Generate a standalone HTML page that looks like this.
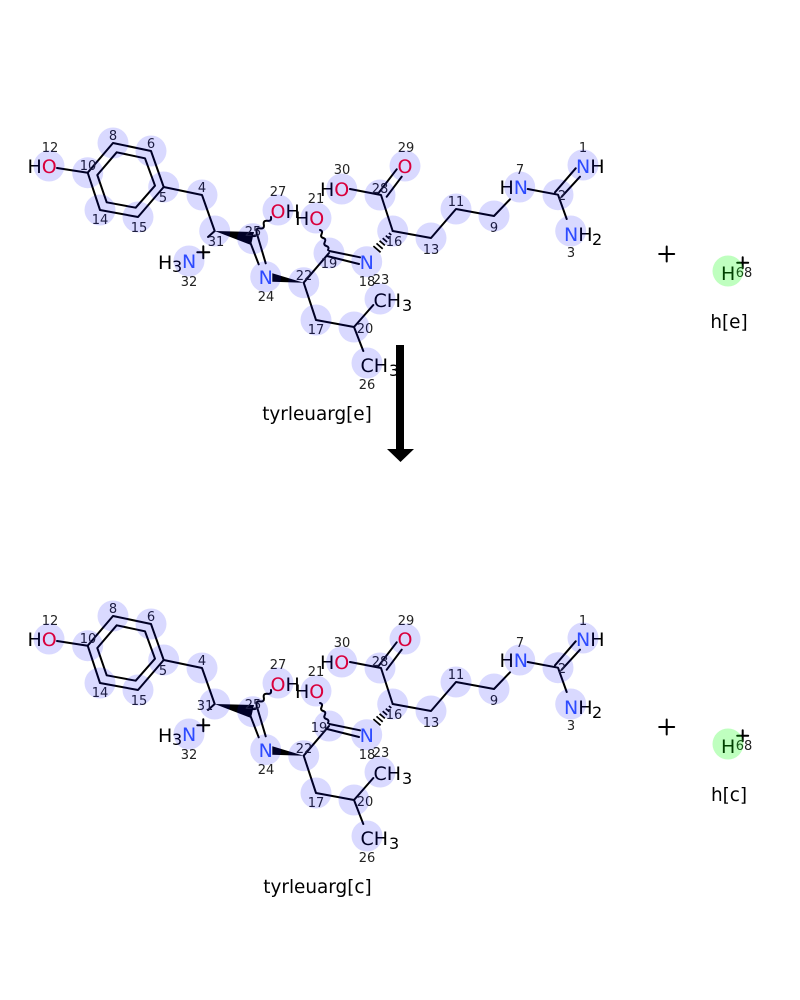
<!DOCTYPE html>
<html><head><meta charset="utf-8"><style>
html,body{margin:0;padding:0;background:#fff}
svg{display:block}
text{font-family:"DejaVu Sans","Liberation Sans",sans-serif}
.a{font-size:19px}.s{font-size:16px}
.n{font-size:13px;text-anchor:middle;fill:#222}
.t{font-size:18.4px;text-anchor:middle}
.O{fill:#ff001a}.N{fill:#3558ff}
.b{stroke:#000;stroke-width:2;fill:none;stroke-linecap:round;stroke-linejoin:round}
.h{stroke:#000;stroke-width:1.7}
.c circle{fill:rgba(0,0,255,.15)}
</style></head><body>
<svg width="800" height="1000" viewBox="0 0 800 1000" xmlns="http://www.w3.org/2000/svg">
<rect width="800" height="1000" fill="#fff"/>
<defs>
<g id="sk">
<path class="b" d="M57 168L87.7 172.7"/>
<path class="b" d="M87.7 172.7L113 143L151 151L163.7 187L138 217L100 210Z"/>
<path class="b" d="M97.3 175L116.7 152.3L145 158.3L155 185.7L135.7 207.7L106.7 202.3Z"/>
<path class="b" d="M163.7 187L202 195L214.7 231L208 237"/>
<polygon points="214.7,231 254,232 251,245" fill="#000"/>
<path class="b" d="M250 241.7L258.7 264.3M257.3 235L265.7 263.3"/>
<path class="b" d="M253 236Q257.4 236.7 256.6 232.2Q255.8 227.7 260.2 228.4Q264.6 229.1 263.8 224.6Q263 220.1 267.4 220.8Q271.8 221.5 271 217"/>
<polygon points="303.7,282.7 272.3,273.3 272.3,281.7" fill="#000"/>
<path class="b" d="M329 253L303.7 282.7L316 320L354 327L373.3 305M354 327L363.3 351"/>
<path class="b" d="M329.3 251L360 257.3M327 256L359 264"/>
<path class="b" d="M328 250Q329.6 247 326.4 246Q323.2 245 324.8 242Q326.4 239 323.2 238Q320 237 321.6 234Q323.2 231 320 230"/>
<path class="h" d="M388.9 233L391.3 235M385.8 235.6L389.2 238.6M382.7 238.2L387.1 242M379.55 240.8L384.85 245.4M376.5 243.4L382.7 248.8M373.4 246.1L380.6 252.3"/>
<path class="b" d="M392.7 231L381 195L350 189M378.3 193.3L396.7 169.3M386.7 196.7L401.7 176.7"/>
<path class="b" d="M392.7 231L431 238L456 209L494 216L510 199.3M527.7 189L558 194.7L566.7 219M555 192.3L575.7 168.3M561.7 196.7L580 176.7"/>
<path class="b" d="M197.3 252.3H209.3M203.3 246.3V258.3"/>
<path class="b" d="M659.2 254H674.2M666.7 246.5V261.5"/>
<path class="b" d="M737.2 262.7H748.2M742.7 257.2V268.2"/>
</g>
</defs>

<use href="#sk"/>
<use href="#sk" y="473"/>

<!-- top labels -->
<g>
<text class="a" x="27.5" y="173">H<tspan class="O">O</tspan></text>
<text class="a" x="158" y="269">H</text><text class="s" x="172" y="272">3</text><text class="a N" x="182" y="268">N</text>
<text class="a N" x="258.6" y="284">N</text>
<text class="a" x="270.5" y="218"><tspan class="O">O</tspan>H</text>
<text class="a" x="295" y="225">H<tspan class="O">O</tspan></text>
<text class="a" x="320" y="196">H<tspan class="O">O</tspan></text>
<text class="a O" x="397.5" y="173">O</text>
<text class="a N" x="359.6" y="269">N</text>
<text class="a" x="373.5" y="307">CH</text><text class="s" x="402" y="311">3</text>
<text class="a" x="360.5" y="372">CH</text><text class="s" x="389" y="376">3</text>
<text class="a" x="499.5" y="194">H<tspan class="N">N</tspan></text>
<text class="a" x="576" y="173"><tspan class="N">N</tspan>H</text>
<text class="a" x="564" y="241"><tspan class="N">N</tspan>H</text><text class="s" x="592" y="245">2</text>
<text class="a" x="721" y="280">H</text>
<text class="n" x="50" y="152">12</text><text class="n" x="113" y="140">8</text><text class="n" x="151" y="148">6</text><text class="n" x="88" y="170">10</text><text class="n" x="163" y="202">5</text><text class="n" x="100" y="224">14</text><text class="n" x="139" y="232">15</text><text class="n" x="202" y="192">4</text><text class="n" x="216" y="246">31</text><text class="n" x="189" y="286">32</text><text class="n" x="253" y="236">25</text><text class="n" x="266" y="301">24</text><text class="n" x="278" y="196">27</text><text class="n" x="316" y="203">21</text><text class="n" x="342" y="174">30</text><text class="n" x="380" y="193">28</text><text class="n" x="406" y="152">29</text><text class="n" x="394" y="246">16</text><text class="n" x="329" y="268">19</text><text class="n" x="367" y="286">18</text><text class="n" x="304" y="280">22</text><text class="n" x="381" y="284">23</text><text class="n" x="316" y="334">17</text><text class="n" x="365" y="333">20</text><text class="n" x="367" y="389">26</text><text class="n" x="431" y="254">13</text><text class="n" x="456" y="206">11</text><text class="n" x="494" y="232">9</text><text class="n" x="520" y="174">7</text><text class="n" x="562" y="200">2</text><text class="n" x="583" y="152">1</text><text class="n" x="571" y="257">3</text><text class="n" x="744" y="277">68</text>
<text class="t" x="317" y="420">tyrleuarg[e]</text>
<text class="t" x="729" y="328">h[e]</text>
</g>

<!-- bottom labels -->
<g>
<text class="a" x="27.5" y="646">H<tspan class="O">O</tspan></text>
<text class="a" x="158" y="742">H</text><text class="s" x="172" y="745">3</text><text class="a N" x="182" y="741">N</text>
<text class="a N" x="258.6" y="757">N</text>
<text class="a" x="270.5" y="691"><tspan class="O">O</tspan>H</text>
<text class="a" x="295" y="698">H<tspan class="O">O</tspan></text>
<text class="a" x="320" y="669">H<tspan class="O">O</tspan></text>
<text class="a O" x="397.5" y="646">O</text>
<text class="a N" x="359.6" y="742">N</text>
<text class="a" x="373.5" y="780">CH</text><text class="s" x="402" y="784">3</text>
<text class="a" x="360.5" y="845">CH</text><text class="s" x="389" y="849">3</text>
<text class="a" x="499.5" y="667">H<tspan class="N">N</tspan></text>
<text class="a" x="576" y="646"><tspan class="N">N</tspan>H</text>
<text class="a" x="564" y="714"><tspan class="N">N</tspan>H</text><text class="s" x="592" y="718">2</text>
<text class="a" x="721" y="753">H</text>
<text class="n" x="50" y="625">12</text><text class="n" x="113" y="613">8</text><text class="n" x="151" y="621">6</text><text class="n" x="88" y="643">10</text><text class="n" x="163" y="675">5</text><text class="n" x="100" y="697">14</text><text class="n" x="139" y="705">15</text><text class="n" x="202" y="665">4</text><text class="n" x="205" y="710">31</text><text class="n" x="189" y="759">32</text><text class="n" x="253" y="709">25</text><text class="n" x="266" y="774">24</text><text class="n" x="278" y="669">27</text><text class="n" x="316" y="676">21</text><text class="n" x="342" y="647">30</text><text class="n" x="380" y="666">28</text><text class="n" x="406" y="625">29</text><text class="n" x="394" y="719">16</text><text class="n" x="319" y="732">19</text><text class="n" x="367" y="759">18</text><text class="n" x="304" y="753">22</text><text class="n" x="381" y="757">23</text><text class="n" x="316" y="807">17</text><text class="n" x="365" y="806">20</text><text class="n" x="367" y="862">26</text><text class="n" x="431" y="727">13</text><text class="n" x="456" y="679">11</text><text class="n" x="494" y="705">9</text><text class="n" x="520" y="647">7</text><text class="n" x="562" y="673">2</text><text class="n" x="583" y="625">1</text><text class="n" x="571" y="730">3</text><text class="n" x="744" y="750">68</text>
<text class="t" x="317.5" y="893">tyrleuarg[c]</text>
<text class="t" x="729" y="801">h[c]</text>
</g>

<!-- arrow -->
<rect x="396" y="345" width="8" height="105" fill="#000"/>
<polygon points="387,449 414,449 400.5,462" fill="#000"/>

<!-- highlights -->
<defs>
<g id="hl" class="c">
<circle cx="49" cy="166" r="15.5"/><circle cx="87.7" cy="172.7" r="15.5"/><circle cx="113" cy="143" r="15.5"/><circle cx="151" cy="151" r="15.5"/><circle cx="163.7" cy="187" r="15.5"/><circle cx="138" cy="217" r="15.5"/><circle cx="100" cy="210" r="15.5"/><circle cx="202" cy="195" r="15.5"/><circle cx="214.7" cy="231" r="15.5"/><circle cx="189" cy="261" r="15.5"/><circle cx="252.7" cy="238.7" r="15.5"/><circle cx="265.7" cy="276.7" r="15.5"/><circle cx="278" cy="210" r="15.5"/><circle cx="316" cy="218" r="15.5"/><circle cx="341.7" cy="189" r="15.5"/><circle cx="380" cy="195" r="15.5"/><circle cx="405" cy="166" r="15.5"/><circle cx="392.7" cy="231" r="15.5"/><circle cx="329" cy="253" r="15.5"/><circle cx="366.7" cy="261.7" r="15.5"/><circle cx="303.7" cy="282.7" r="15.5"/><circle cx="316" cy="320" r="15.5"/><circle cx="354" cy="327" r="15.5"/><circle cx="380" cy="299" r="15.5"/><circle cx="367" cy="363" r="15.5"/><circle cx="431" cy="238" r="15.5"/><circle cx="456" cy="209" r="15.5"/><circle cx="494" cy="216" r="15.5"/><circle cx="519.7" cy="187" r="15.5"/><circle cx="558" cy="194.7" r="15.5"/><circle cx="583" cy="165" r="15.5"/><circle cx="570.7" cy="231" r="15.5"/>
<circle cx="728" cy="271" r="15.5" style="fill:rgba(0,255,0,.25)"/>
</g>
</defs>
<use href="#hl"/>
<use href="#hl" y="473"/>
</svg>
</body></html>
